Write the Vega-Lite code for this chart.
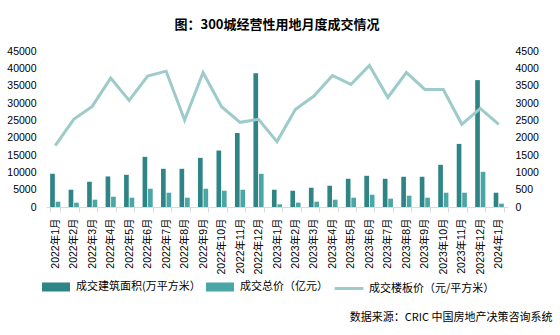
{
  "$schema": "https://vega.github.io/schema/vega-lite/v6.json",
  "width": 462,
  "height": 156,
  "autosize": {"type": "none"},
  "padding": {"left": 46, "top": 51, "right": 52, "bottom": 128},
  "background": "#ffffff",
  "config": {
    "view": {"stroke": null},
    "font": "Liberation Sans, Noto Sans CJK SC",
    "axis": {"labelFont": "Liberation Sans, Noto Sans CJK SC", "labelColor": "#000000", "labelFontSize": 10.5, "grid": false}
  },
  "title": {
    "text": "图：300城经营性用地月度成交情况",
    "font": "Noto Sans CJK SC",
    "fontSize": 13,
    "fontWeight": "bold",
    "color": "#000000",
    "anchor": "middle",
    "offset": 14
  },
  "datasets": {
    "bars": [
      {"month": "2022年1月", "series": "成交建筑面积(万平方米）", "value": 9580},
      {"month": "2022年1月", "series": "成交总价（亿元）", "value": 1530},
      {"month": "2022年2月", "series": "成交建筑面积(万平方米）", "value": 4980},
      {"month": "2022年2月", "series": "成交总价（亿元）", "value": 1250},
      {"month": "2022年3月", "series": "成交建筑面积(万平方米）", "value": 7280},
      {"month": "2022年3月", "series": "成交总价（亿元）", "value": 2110},
      {"month": "2022年4月", "series": "成交建筑面积(万平方米）", "value": 8810},
      {"month": "2022年4月", "series": "成交总价（亿元）", "value": 2970},
      {"month": "2022年5月", "series": "成交建筑面积(万平方米）", "value": 9290},
      {"month": "2022年5月", "series": "成交总价（亿元）", "value": 2680},
      {"month": "2022年6月", "series": "成交建筑面积(万平方米）", "value": 14470},
      {"month": "2022年6月", "series": "成交总价（亿元）", "value": 5270},
      {"month": "2022年7月", "series": "成交建筑面积(万平方米）", "value": 11020},
      {"month": "2022年7月", "series": "成交总价（亿元）", "value": 4120},
      {"month": "2022年8月", "series": "成交建筑面积(万平方米）", "value": 11020},
      {"month": "2022年8月", "series": "成交总价（亿元）", "value": 2680},
      {"month": "2022年9月", "series": "成交建筑面积(万平方米）", "value": 14180},
      {"month": "2022年9月", "series": "成交总价（亿元）", "value": 5270},
      {"month": "2022年10月", "series": "成交建筑面积(万平方米）", "value": 16290},
      {"month": "2022年10月", "series": "成交总价（亿元）", "value": 4690},
      {"month": "2022年11月", "series": "成交建筑面积(万平方米）", "value": 21360},
      {"month": "2022年11月", "series": "成交总价（亿元）", "value": 4980},
      {"month": "2022年12月", "series": "成交建筑面积(万平方米）", "value": 38600},
      {"month": "2022年12月", "series": "成交总价（亿元）", "value": 9580},
      {"month": "2023年1月", "series": "成交建筑面积(万平方米）", "value": 4980},
      {"month": "2023年1月", "series": "成交总价（亿元）", "value": 770},
      {"month": "2023年2月", "series": "成交建筑面积(万平方米）", "value": 4690},
      {"month": "2023年2月", "series": "成交总价（亿元）", "value": 1250},
      {"month": "2023年3月", "series": "成交建筑面积(万平方米）", "value": 5560},
      {"month": "2023年3月", "series": "成交总价（亿元）", "value": 1530},
      {"month": "2023年4月", "series": "成交建筑面积(万平方米）", "value": 6130},
      {"month": "2023年4月", "series": "成交总价（亿元）", "value": 2110},
      {"month": "2023年5月", "series": "成交建筑面积(万平方米）", "value": 8140},
      {"month": "2023年5月", "series": "成交总价（亿元）", "value": 2680},
      {"month": "2023年6月", "series": "成交建筑面积(万平方米）", "value": 9000},
      {"month": "2023年6月", "series": "成交总价（亿元）", "value": 3540},
      {"month": "2023年7月", "series": "成交建筑面积(万平方米）", "value": 8140},
      {"month": "2023年7月", "series": "成交总价（亿元）", "value": 2400},
      {"month": "2023年8月", "series": "成交建筑面积(万平方米）", "value": 8720},
      {"month": "2023年8月", "series": "成交总价（亿元）", "value": 3260},
      {"month": "2023年9月", "series": "成交建筑面积(万平方米）", "value": 8720},
      {"month": "2023年9月", "series": "成交总价（亿元）", "value": 2680},
      {"month": "2023年10月", "series": "成交建筑面积(万平方米）", "value": 12170},
      {"month": "2023年10月", "series": "成交总价（亿元）", "value": 4120},
      {"month": "2023年11月", "series": "成交建筑面积(万平方米）", "value": 18200},
      {"month": "2023年11月", "series": "成交总价（亿元）", "value": 4120},
      {"month": "2023年12月", "series": "成交建筑面积(万平方米）", "value": 36600},
      {"month": "2023年12月", "series": "成交总价（亿元）", "value": 10150},
      {"month": "2024年1月", "series": "成交建筑面积(万平方米）", "value": 4120},
      {"month": "2024年1月", "series": "成交总价（亿元）", "value": 960}
    ],
    "line": [
      {"month": "2022年1月", "price": 1772},
      {"month": "2022年2月", "price": 2529},
      {"month": "2022年3月", "price": 2903},
      {"month": "2022年4月", "price": 3717},
      {"month": "2022年5月", "price": 3075},
      {"month": "2022年6月", "price": 3775},
      {"month": "2022年7月", "price": 3918},
      {"month": "2022年8月", "price": 2510},
      {"month": "2022年9月", "price": 3880},
      {"month": "2022年10月", "price": 2893},
      {"month": "2022年11月", "price": 2443},
      {"month": "2022年12月", "price": 2529},
      {"month": "2023年1月", "price": 1887},
      {"month": "2023年2月", "price": 2817},
      {"month": "2023年3月", "price": 3200},
      {"month": "2023年4月", "price": 3794},
      {"month": "2023年5月", "price": 3535},
      {"month": "2023年6月", "price": 4081},
      {"month": "2023年7月", "price": 3161},
      {"month": "2023年8月", "price": 3880},
      {"month": "2023年9月", "price": 3391},
      {"month": "2023年10月", "price": 3391},
      {"month": "2023年11月", "price": 2385},
      {"month": "2023年12月", "price": 2845},
      {"month": "2024年1月", "price": 2385}
    ]
  },
  "layer": [
    {
      "data": {"name": "bars"},
      "mark": {"type": "bar"},
      "encoding": {
        "x": {
          "field": "month", "type": "nominal", "sort": null,
          "scale": {"paddingInner": 0.45, "paddingOuter": 0.225},
          "axis": {
            "labelAngle": 270, "labelPadding": 6, "tickBand": "extent", "ticks": true, "tickSize": 5,
            "tickColor": "#d9d9d9", "domainColor": "#d9d9d9",
            "title": "数据来源：CRIC 中国房地产决策咨询系统",
            "titleFont": "Noto Sans CJK SC", "titleFontSize": 11, "titleFontWeight": "normal", "titleColor": "#000000",
            "titleAnchor": "end", "titleAlign": "right", "titleBaseline": "middle",
            "titleX": 506, "titleY": 110, "titleAngle": 0
          }
        },
        "xOffset": {"field": "series", "type": "nominal", "sort": null, "scale": {"paddingInner": 0.15}},
        "y": {
          "field": "value", "type": "quantitative",
          "scale": {"domain": [0, 45000], "nice": false},
          "axis": {"orient": "left", "title": null, "values": [0,5000,10000,15000,20000,25000,30000,35000,40000,45000], "domain": false, "ticks": false, "labelPadding": 10, "format": "d"}
        },
        "color": {
          "field": "series", "type": "nominal",
          "scale": {"domain": ["成交建筑面积(万平方米）", "成交总价（亿元）", "成交楼板价（元/平方米）"], "range": ["#2f8585", "#4ba6a6", "#9dcaca"]},
          "legend": {
            "title": null, "orient": "none", "legendX": -4, "legendY": 222, "direction": "horizontal",
            "labelFont": "Noto Sans CJK SC", "labelFontSize": 11, "labelColor": "#000000",
            "symbolSize": 625, "labelOffset": 6, "columnPadding": 0, "padding": 0,
            "encode": {
              "symbols": {
                "update": {
                  "shape": {"signal": "datum.value === '成交楼板价（元/平方米）' ? 'M-1.15,0H1.15' : 'M-1,-0.24H1V0.24H-1Z'"},
                  "fill": {"signal": "datum.value === '成交楼板价（元/平方米）' ? 'transparent' : (datum.value === '成交总价（亿元）' ? '#4ba6a6' : '#2f8585')"},
                  "stroke": {"signal": "datum.value === '成交楼板价（元/平方米）' ? '#9dcaca' : 'transparent'"},
                  "strokeWidth": {"value": 3},
                  "opacity": {"value": 1}
                }
              }
            }
          }
        }
      }
    },
    {
      "data": {"name": "line"},
      "mark": {"type": "line", "strokeWidth": 3, "color": "#9dcaca"},
      "encoding": {
        "x": {"field": "month", "type": "nominal", "sort": null},
        "y": {
          "field": "price", "type": "quantitative",
          "scale": {"domain": [0, 4500], "nice": false},
          "axis": {"orient": "right", "title": null, "values": [0,500,1000,1500,2000,2500,3000,3500,4000,4500], "domain": false, "ticks": false, "labelPadding": 7, "format": "d"}
        },
        "color": {"datum": "成交楼板价（元/平方米）"}
      }
    }
  ],
  "resolve": {"scale": {"y": "independent"}}
}
